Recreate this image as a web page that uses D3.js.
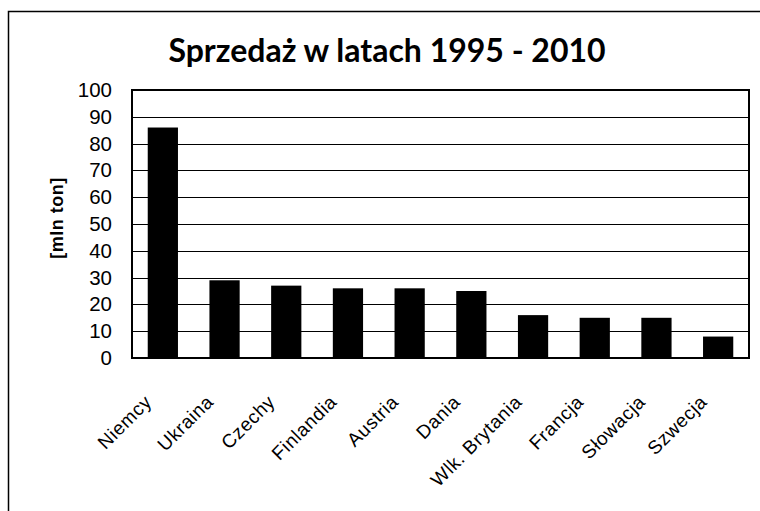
<!DOCTYPE html>
<html>
<head>
<meta charset="utf-8">
<script src="https://cdn.jsdelivr.net/npm/d3@7"></script>
<style>
  html, body { margin: 0; padding: 0; background: #fff; }
  svg { display: block; }
</style>
</head>
<body>
<svg id="chart" width="760" height="511"></svg>
<script>
const categories = ["Niemcy", "Ukraina", "Czechy", "Finlandia", "Austria", "Dania", "Wlk. Brytania", "Francja", "Słowacja", "Szwecja"];
const values = [86, 29, 27, 26, 26, 25, 16, 15, 15, 8];
const yTicks = [0, 10, 20, 30, 40, 50, 60, 70, 80, 90, 100];
const titleText = "Sprzedaż w latach 1995 - 2010";
const yAxisTitle = "[mln ton]";

const svg = d3.select("#chart");
const W = 760, H = 511;
const plot = { left: 132, right: 749, top: 90, bottom: 358 };
const sans = "'Liberation Sans', Arimo, Arial, sans-serif";

svg.append("rect").attr("x", 0).attr("y", 0).attr("width", W).attr("height", H).attr("fill", "#fff");
// outer chart frame (right and bottom run off the picture)
svg.append("rect")
  .attr("x", 8.5).attr("y", 11.5).attr("width", 800).attr("height", 600)
  .attr("fill", "none").attr("stroke", "#000").attr("stroke-width", 1.5);

const x = d3.scaleBand().domain(categories).range([plot.left, plot.right]).paddingInner(0.51).paddingOuter(0.255);
const y = d3.scaleLinear().domain([0, 100]).range([plot.bottom, plot.top]);

// gridlines
svg.append("g").selectAll("line").data(yTicks).join("line")
  .attr("x1", plot.left).attr("x2", plot.right)
  .attr("y1", d => Math.round(y(d)) + 0.5).attr("y2", d => Math.round(y(d)) + 0.5)
  .attr("stroke", "#000").attr("stroke-width", 1.2);

// bars
svg.append("g").selectAll("rect").data(values).join("rect")
  .attr("x", (d, i) => x(categories[i]))
  .attr("width", x.bandwidth())
  .attr("y", d => y(d))
  .attr("height", d => y(0) - y(d))
  .attr("fill", "#000");

// plot frame
svg.append("rect")
  .attr("x", plot.left).attr("y", plot.top)
  .attr("width", plot.right - plot.left).attr("height", plot.bottom - plot.top)
  .attr("fill", "none").attr("stroke", "#000").attr("stroke-width", 2);

// y axis labels
const yAxis = d3.axisLeft(y).tickValues(yTicks).tickSize(0).tickPadding(20).tickFormat(d3.format("d"));
const gy = svg.append("g").attr("transform", `translate(${plot.left},0)`).call(yAxis);
gy.select(".domain").remove();
gy.selectAll("text")
  .attr("font-family", sans)
  .attr("font-size", 20.5).attr("fill", "#000");

// x axis labels
const xAxis = d3.axisBottom(x).tickSize(0).tickPadding(0);
const gx = svg.append("g").attr("transform", `translate(0,${plot.bottom})`).call(xAxis);
gx.select(".domain").remove();
gx.selectAll("text")
  .attr("font-family", sans)
  .attr("font-size", 19).attr("letter-spacing", 0.6).attr("fill", "#000")
  .attr("text-anchor", "end")
  .attr("dy", null).attr("y", 0)
  .attr("transform", "translate(-10,45) rotate(-45)");

// title
svg.append("text")
  .attr("x", 387).attr("y", 62)
  .attr("text-anchor", "middle")
  .attr("font-family", "Lato, 'Open Sans', sans-serif")
  .attr("font-weight", "bold").attr("font-size", 32)
  .attr("fill", "#000")
  .text(titleText);

// y axis title
svg.append("text")
  .attr("transform", `translate(63,218) rotate(-90)`)
  .attr("text-anchor", "middle")
  .attr("font-family", sans)
  .attr("font-weight", "bold").attr("font-size", 18).attr("letter-spacing", 0.5)
  .attr("fill", "#000")
  .text(yAxisTitle);
</script>
</body>
</html>
